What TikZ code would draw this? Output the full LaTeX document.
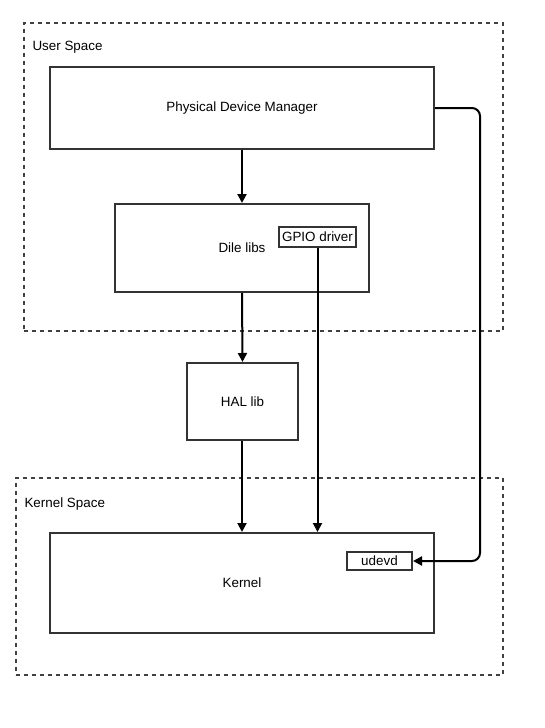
\documentclass[tikz,border=0pt]{standalone}
\usepackage{fontspec}
\setmainfont{Liberation Sans}
\usetikzlibrary{arrows.meta,positioning}

\begin{document}
\begin{tikzpicture}[x=1pt,y=-1pt,
  every node/.style={font=\fontsize{13.4}{15}\selectfont},
  block/.style={draw=black!80, line width=2pt, inner sep=0pt},
  small/.style={draw=black!80, line width=2pt, inner sep=2pt, fill=white},
  space/.style={draw=black!75, line width=2pt, dash pattern=on 4pt off 4pt, inner sep=0pt},
  flow/.style={line width=2pt, -{Triangle[length=9pt,width=9pt]}}]
  \useasboundingbox (0,0) rectangle (544,728);

  % spaces
  \node[space, minimum width=479pt, minimum height=308pt] (user) at (263.5,177) {};
  \node[right] (userlbl) at (29,47) {User Space};
  \node[space, minimum width=487pt, minimum height=197pt] (kspace) at (259.5,576.5) {};
  \node[right] (klbl) at (21,504) {Kernel Space};

  % blocks
  \node[block, minimum width=384pt, minimum height=82pt] (pdm) at (242,108) {Physical Device Manager};
  \node[block, minimum width=254pt, minimum height=88pt] (dile) at (242,248) {Dile libs};
  \node[small, minimum width=77pt, minimum height=20pt] (gpio) at (317.5,237) {GPIO driver};
  \node[block, minimum width=111pt, minimum height=77pt] (hal) at (242.5,401.5) {HAL lib};
  \node[block, minimum width=384pt, minimum height=100pt] (kernel) at (242,583) {Kernel};
  \node[small, minimum width=65pt, minimum height=18pt] (udevd) at (379.5,561) {udevd};

  % connectors
  \draw[flow] (pdm.south) -- (dile.north);
  \draw[flow] (dile.south) -- (hal.north);
  \draw[flow] (hal.south -| kernel.north) -- (kernel.north);
  \draw[flow] (gpio.south) -- (gpio.south |- kernel.north);
  \draw[flow, rounded corners=8pt] (pdm.east) -- ++(45,0) |- (udevd.east);
\end{tikzpicture}
\end{document}
